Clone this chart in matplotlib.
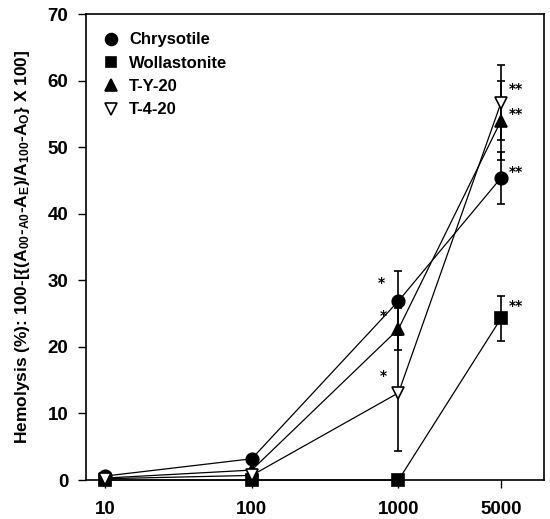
import matplotlib
matplotlib.use('Agg')
import matplotlib.pyplot as plt
from matplotlib.lines import Line2D

plt.rcParams['font.family'] = ['Liberation Sans', 'DejaVu Sans']
plt.rcParams['font.weight'] = 'bold'
plt.rcParams['mathtext.default'] = 'regular'

# concentrations (x axis, log scale)
conc = [10, 100, 1000, 5000]
xtick_labels = ['10', '100', '1000', '5000']

names = ['Chrysotile', 'Wollastonite', 'T-Y-20', 'T-4-20']
chrysotile = [0.6, 3.2, 26.9, 45.4]
wollastonite = [0.0, 0.0, 0.0, 24.3]
ty20 = [0.3, 1.5, 22.7, 54.0]
t420 = [0.2, 0.7, 13.1, 56.7]

chrysotile_err = [0, 0, 4.5, 3.9]
wollastonite_err = [0, 0, 0, 3.4]
ty20_err = [0, 0, 3.2, 5.9]
t420_err = [0, 0, 8.7, 5.6]

# significance marks
chrysotile_sig = ['', '', '*', '**']
wollastonite_sig = ['', '', '', '**']
ty20_sig = ['', '', '*', '**']
t420_sig = ['', '', '*', '**']

series = [
    (chrysotile, chrysotile_err, chrysotile_sig, 'o', 'k', 9),
    (wollastonite, wollastonite_err, wollastonite_sig, 's', 'k', 8),
    (ty20, ty20_err, ty20_sig, '^', 'k', 9),
    (t420, t420_err, t420_sig, 'v', 'w', 9),
]
# offsets (points) for the star labels: single star left, double star right
off_single = [(-12, 13), (-11, 9), (-11, 9), (-11, 12)]
off_double = [(11, 4), (11, 9), (11, 5), (11, 10)]

fig = plt.figure(figsize=(5.5, 5.19), dpi=100)
ax = fig.add_axes([0.156, 0.075, 0.833, 0.898])

handles = []
for i, (vals, err, sig, mk, fc, ms) in enumerate(series):
    ax.errorbar(conc, vals, yerr=err, fmt='-',
                color='k', lw=0.9, elinewidth=1.2, capsize=3, capthick=1.2,
                marker=mk, mfc=fc, mec='k', mew=1.2, ms=ms,
                clip_on=False, zorder=3)
    handles.append(Line2D([], [], ls='none', marker=mk, mfc=fc, mec='k',
                          mew=1.2, ms=ms * 0.95, label=names[i]))
    for x, y, s in zip(conc, vals, sig):
        if not s:
            continue
        off = off_single[i] if s == '*' else off_double[i]
        ax.annotate(s, (x, y), xytext=off, textcoords='offset points',
                    ha='center', va='center', fontsize=10, fontweight='bold',
                    family='DejaVu Sans')

ax.set_xscale('log')
ax.set_xlim(7.4, 9800)
ax.set_ylim(0, 70)
ax.set_xticks(conc)
ax.set_xticklabels(xtick_labels)
ax.minorticks_off()
ax.set_yticks(range(0, 71, 10))
ax.tick_params(axis='both', direction='out', length=6, width=1, labelsize=13.5)
ax.tick_params(axis='y', pad=6.5)
ax.tick_params(axis='x', pad=9)
for sp in ax.spines.values():
    sp.set_linewidth(1.2)

ax.set_ylabel('Hemolysis (%): 100-[{(A$_{00}$-$_{A0}$-A$_{E}$)/A$_{100}$-A$_{O}$} X 100]',
              fontsize=12.5, fontweight='bold', labelpad=11)

ax.legend(handles=handles, loc='upper left', frameon=False, fontsize=12,
          handlelength=0.8, handletextpad=0.7, labelspacing=0.5,
          borderaxespad=0.6, borderpad=0.5)

fig.savefig('out.png', dpi=100)
